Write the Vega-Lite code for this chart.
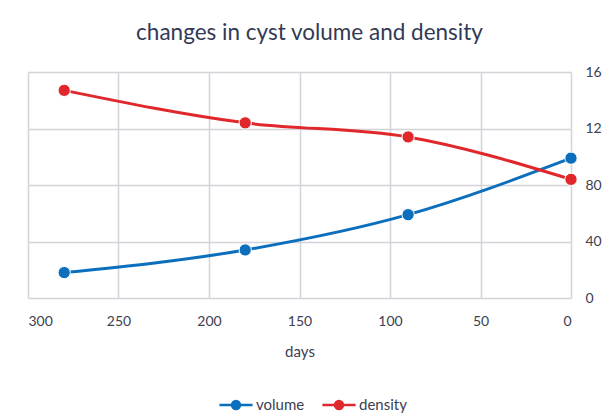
{
  "$schema": "https://vega.github.io/schema/vega-lite/v6.json",
  "width": 543,
  "height": 226,
  "autosize": "none",
  "padding": {"left": 28, "top": 72, "right": 31, "bottom": 122},
  "background": "white",
  "title": {
    "text": "changes in cyst volume and density",
    "font": "Lato",
    "fontSize": 22.5,
    "fontWeight": "normal",
    "color": "#323a55",
    "anchor": "middle",
    "dx": 10,
    "offset": 21
  },
  "data": {
    "values": [
      {"days": 280, "value": 18, "series": "volume"},
      {"days": 180, "value": 34, "series": "volume"},
      {"days": 90, "value": 59, "series": "volume"},
      {"days": 0, "value": 99, "series": "volume"},
      {"days": 280, "value": 147, "series": "density"},
      {"days": 180, "value": 124, "series": "density"},
      {"days": 90, "value": 114, "series": "density"},
      {"days": 0, "value": 84, "series": "density"}
    ]
  },
  "encoding": {
    "x": {
      "field": "days",
      "type": "quantitative",
      "scale": {"domain": [0, 300], "reverse": true, "nice": false},
      "axis": {
        "title": "days",
        "values": [0, 50, 100, 150, 200, 250, 300],
        "grid": true,
        "gridColor": "#d3d3da",
        "gridWidth": 1.5,
        "ticks": false,
        "domain": false,
        "labelPadding": 16,
        "labelFont": "Lato",
        "labelFontSize": 14,
        "labelColor": "#3d4050",
        "titleFont": "Lato",
        "titleFontSize": 15,
        "titleFontWeight": "normal",
        "titleColor": "#3d4050",
        "titlePadding": 16
      }
    },
    "y": {
      "field": "value",
      "type": "quantitative",
      "scale": {"domain": [0, 160], "nice": false},
      "axis": {
        "orient": "right",
        "title": null,
        "values": [0, 40, 80, 120, 160],
        "grid": true,
        "gridColor": "#d3d3da",
        "gridWidth": 1.5,
        "ticks": false,
        "domain": false,
        "labelPadding": 14,
        "labelFont": "Lato",
        "labelFontSize": 14,
        "labelColor": "#3d4050"
      }
    },
    "color": {
      "field": "series",
      "type": "nominal",
      "scale": {"domain": ["volume", "density"], "range": ["#0b6fbd", "#e0282c"]},
      "legend": {
        "title": null,
        "orient": "none",
        "direction": "horizontal",
        "legendX": 190,
        "legendY": 315,
        "symbolType": "M-1,0H1M0,-0.24A0.24,0.24 0 1,1 0,0.24A0.24,0.24 0 1,1 0,-0.24Z",
        "symbolSize": 1100,
        "symbolStrokeWidth": 2.5,
        "labelFont": "Lato",
        "labelFontSize": 15,
        "labelColor": "#3d4050",
        "columnPadding": 12,
        "labelOffset": 2
      }
    }
  },
  "layer": [
    {"mark": {"type": "line", "interpolate": "monotone", "strokeWidth": 3}},
    {"mark": {"type": "point", "filled": true, "size": 150, "opacity": 1, "stroke": "white", "strokeWidth": 1}}
  ],
  "config": {"view": {"stroke": null}}
}
